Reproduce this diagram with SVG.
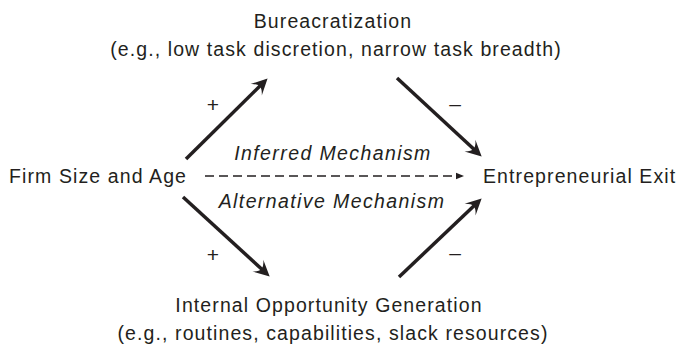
<svg xmlns="http://www.w3.org/2000/svg" width="677" height="353" viewBox="0 0 677 353">
<style>
.t{font-family:"Liberation Sans",Arial,sans-serif;font-size:19.5px;fill:#231f20;letter-spacing:1.1px}
.c{text-anchor:middle}
.i{font-style:italic;letter-spacing:1.4px}
.s{font-family:"Liberation Sans",Arial,sans-serif;font-size:21px;fill:#231f20;text-anchor:middle}
.a{stroke:#231f20;stroke-width:3.5;fill:none;marker-end:url(#ah)}
.d{stroke:#231f20;stroke-width:1.4;fill:none;stroke-dasharray:9 5;marker-end:url(#sh)}
</style>
<defs>
<marker id="ah" markerUnits="userSpaceOnUse" markerWidth="20" markerHeight="20" refX="12" refY="9" orient="auto" viewBox="0 0 20 18">
<path d="M17,9 L1,1 Q6,5.5 6,9 Q6,12.5 1,17 Z" fill="#231f20"/>
</marker>
<marker id="sh" markerUnits="userSpaceOnUse" markerWidth="10" markerHeight="10" refX="1" refY="4" orient="auto" viewBox="0 0 10 8">
<path d="M8,4 L0,0.8 L0,7.2 Z" fill="#231f20"/>
</marker>
</defs>
<g id="bureaucratization">
<text class="t c" x="333" y="28">Bureacratization</text>
<text class="t c" x="336" y="56">(e.g., low task discretion, narrow task breadth)</text>
</g>
<g id="firm-size-age">
<text class="t" x="9" y="183">Firm Size and Age</text>
</g>
<g id="entrepreneurial-exit">
<text class="t" x="483" y="183">Entrepreneurial Exit</text>
</g>
<g id="internal-opportunity">
<text class="t c" x="329" y="312">Internal Opportunity Generation</text>
<text class="t c" x="333" y="340">(e.g., routines, capabilities, slack resources)</text>
</g>
<g id="connectors">
<line class="a" x1="186" y1="159" x2="264" y2="82"/>
<line class="a" x1="397" y1="78" x2="478" y2="153"/>
<line class="a" x1="183" y1="197" x2="266" y2="273"/>
<line class="a" x1="399" y1="277" x2="478" y2="202"/>
<line class="d" x1="205" y1="176" x2="457" y2="176"/>
<text class="t c i" x="333" y="160">Inferred Mechanism</text>
<text class="t c i" x="332" y="208">Alternative Mechanism</text>
<text class="s" x="213" y="112">+</text>
<text class="s" x="213" y="262">+</text>
<text class="s" x="455" y="111">–</text>
<text class="s" x="455" y="260">–</text>
</g>
</svg>
